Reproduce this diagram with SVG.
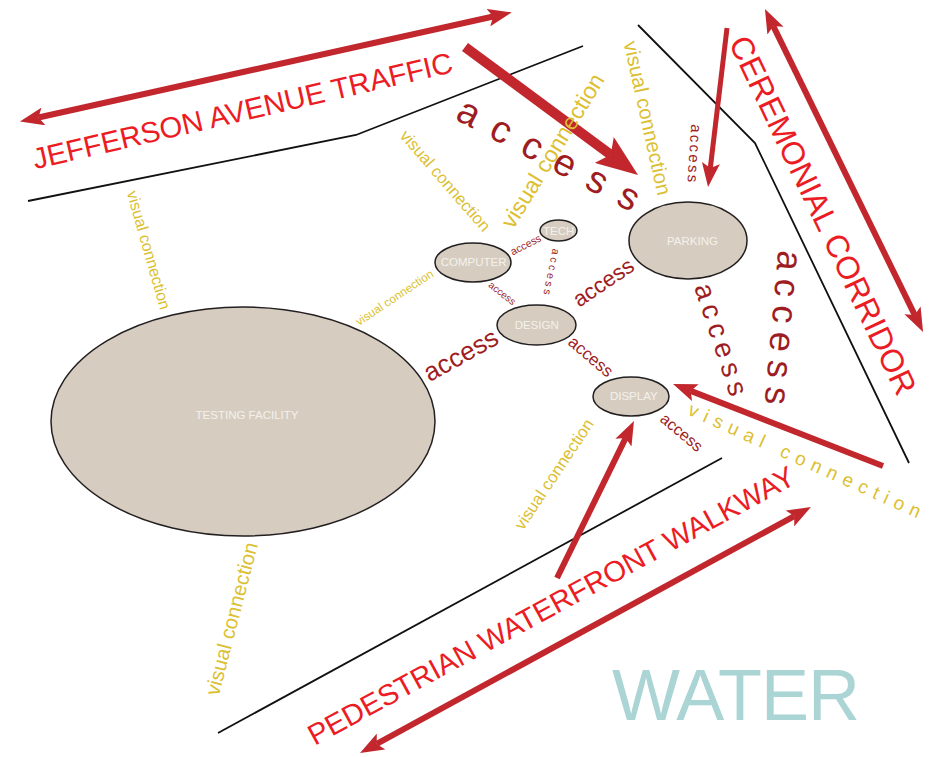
<svg xmlns="http://www.w3.org/2000/svg" width="938" height="757" viewBox="0 0 938 757">
<defs>
<style>
text{font-family:"Liberation Sans",Arial,sans-serif}
.bound{fill:none;stroke:#111;stroke-width:1.8}
.arr{fill:none;stroke:#c1272d;stroke-width:6}
.node{fill:#d6cdc0;stroke:#231f20;stroke-width:1.5}
.nl{fill:#f4f1ec;font-size:11.5px;text-anchor:middle}
.title{fill:#ec1c24;text-anchor:middle}
.vc{fill:#dcbf33;text-anchor:middle}
.ac{fill:#9e1d22;text-anchor:middle}
</style>
<marker id="ah" markerUnits="userSpaceOnUse" markerWidth="24" markerHeight="18" viewBox="0 0 24 18" refX="5" refY="9" orient="auto-start-reverse"><path d="M0,0 L24,9 L0,18 L5,9 z" fill="#c1272d"/></marker>
<marker id="ahb" markerUnits="userSpaceOnUse" markerWidth="42" markerHeight="32" viewBox="0 0 42 32" refX="8" refY="16" orient="auto"><path d="M0,0 L42,16 L0,32 L8,16 z" fill="#c1272d"/></marker>
</defs>
<rect width="938" height="757" fill="#fff"/>

<g id="boundaries">
<polyline class="bound" points="28,201 356,135 583,46"/>
<polyline class="bound" points="638,25 755,143 909,463"/>
<line class="bound" x1="218" y1="733" x2="722" y2="458"/>
</g>

<g id="connectors">
<line class="arr" x1="38.5" y1="117.5" x2="493.2" y2="16.5" marker-start="url(#ah)" marker-end="url(#ah)"/>
<line class="arr" style="stroke-width:10" x1="465" y1="47" x2="610.7" y2="154.7" marker-end="url(#ahb)"/>
<line class="arr" style="stroke-width:5" x1="727" y1="28" x2="710.3" y2="168.1" marker-end="url(#ah)"/>
<line class="arr" x1="773.3" y1="26.1" x2="914.7" y2="314.9" marker-start="url(#ah)" marker-end="url(#ah)"/>
<line class="arr" x1="883" y1="466" x2="690.7" y2="390.9" marker-end="url(#ah)"/>
<line class="arr" x1="557" y1="578" x2="625.6" y2="438.1" marker-end="url(#ah)"/>
<line class="arr" x1="376.7" y1="743.9" x2="794.3" y2="516.1" marker-start="url(#ah)" marker-end="url(#ah)"/>
</g>

<g id="labels">
<text class="title" style="font-size:29.3px" transform="translate(244.8,120.6) rotate(-13.06)">JEFFERSON AVENUE TRAFFIC</text>
<text class="title" style="font-size:32px" transform="translate(813,220) rotate(64.5)">CEREMONIAL CORRIDOR</text>
<text class="title" style="font-size:29.2px" transform="translate(556,614.5) rotate(-28.6)">PEDESTRIAN WATERFRONT WALKWAY</text>
<text x="612" y="720" style="font-size:72px;fill:#abd4d4;letter-spacing:-1px">WATER</text>

<text class="vc" style="font-size:16px" transform="translate(143.5,251.6) rotate(74.1)">visual connection</text>
<text class="vc" style="font-size:16.7px" transform="translate(441,184.5) rotate(49)">visual connection</text>
<text class="vc" style="font-size:23px" transform="translate(559.3,154.8) rotate(-58.6)">visual connection</text>
<text class="vc" style="font-size:20.5px" transform="translate(640.6,119.5) rotate(77.5)">visual connection</text>
<text class="vc" style="font-size:11.8px" transform="translate(396.7,300.9) rotate(-33.7)">visual connection</text>
<text class="vc" style="font-size:20.5px" transform="translate(238.4,620.5) rotate(-75.5)">visual connection</text>
<text class="vc" style="font-size:16.8px" transform="translate(558.7,477.4) rotate(-56.3)">visual connection</text>
<text class="vc" style="font-size:19px;letter-spacing:6.7px" transform="translate(805.2,467.7) rotate(24.3)">visual connection</text>

<text class="ac" style="font-size:38px;letter-spacing:16.5px" transform="translate(550,169.5) rotate(27.8)">access</text>
<text class="ac" style="font-size:10.6px" transform="translate(527.4,248) rotate(-27)">access</text>
<text class="ac" style="font-size:10.6px;letter-spacing:2.7px" transform="translate(547.8,272.4) rotate(101.7)">access</text>
<text class="ac" style="font-size:10px" transform="translate(500.1,295.9) rotate(38.1)">access</text>
<text class="ac" style="font-size:22px" transform="translate(607.5,288.6) rotate(-34.1)">access</text>
<text class="ac" style="font-size:26px" transform="translate(465,362.6) rotate(-29)">access</text>
<text class="ac" style="font-size:17px" transform="translate(587.1,360.9) rotate(40.4)">access</text>
<text class="ac" style="font-size:16px" transform="translate(678.1,436.5) rotate(40.1)">access</text>
<text class="ac" style="font-size:28px;letter-spacing:5.9px" transform="translate(713.2,345.1) rotate(71.8)">access</text>
<text class="ac" style="font-size:36px;letter-spacing:8.5px" transform="translate(771.1,330.9) rotate(95)">access</text>
<text class="ac" style="font-size:15px;letter-spacing:2.3px" transform="translate(689.3,154.1) rotate(93.8)">access</text>
</g>

<g id="testing-facility">
<ellipse class="node" cx="243" cy="421.5" rx="192" ry="114.5"/>
<text class="nl" x="247" y="419">TESTING FACILITY</text>
</g>
<g id="computer">
<ellipse class="node" cx="473" cy="262.5" rx="38" ry="19.5"/>
<text class="nl" x="473.7" y="265.8">COMPUTER</text>
</g>
<g id="tech">
<ellipse class="node" cx="558.5" cy="230.5" rx="18.5" ry="10.5"/>
<text class="nl" x="558.7" y="234.8">TECH</text>
</g>
<g id="design">
<ellipse class="node" cx="536.5" cy="325" rx="39.5" ry="20"/>
<text class="nl" x="536.7" y="329">DESIGN</text>
</g>
<g id="parking">
<ellipse class="node" cx="688" cy="240.5" rx="59" ry="38.5"/>
<text class="nl" x="692.5" y="244.8">PARKING</text>
</g>
<g id="display">
<ellipse class="node" cx="631" cy="396.5" rx="38" ry="19.5"/>
<text class="nl" x="633.8" y="399.8">DISPLAY</text>
</g>
</svg>
